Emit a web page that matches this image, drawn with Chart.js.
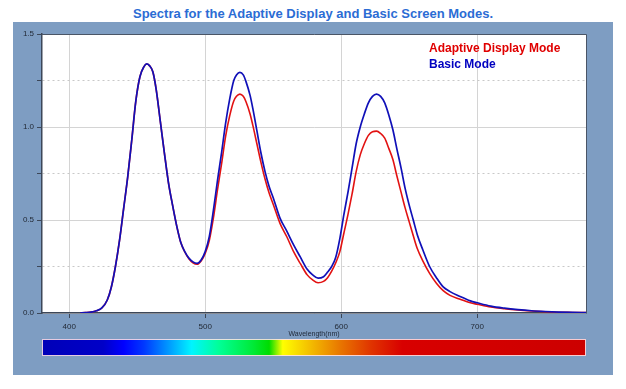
<!DOCTYPE html>
<html>
<head>
<meta charset="utf-8">
<script src="https://cdn.jsdelivr.net/npm/chart.js@4.4.1/dist/chart.umd.min.js"></script>
<style>
  html, body { margin: 0; padding: 0; background: #ffffff; }
  #wrap { position: relative; width: 626px; height: 389px; overflow: hidden; font-family: "Liberation Sans", Arial, sans-serif; }
  #panel { position: absolute; left: 13px; top: 22px; width: 600px; height: 353px; background: #7e9dc2; }
  #title { position: absolute; left: 0; width: 626px; top: 6px; text-align: center; font-weight: bold; font-size: 13px; line-height: 16px; color: #2b6cd4; }
  #c { position: absolute; left: 0; top: 0; }
  #legend { position: absolute; left: 429px; top: 40px; font-weight: bold; font-size: 12px; line-height: 16px; }
</style>
</head>
<body>
<div id="wrap">
  <div id="panel"></div>
  <div id="title">Spectra for the Adaptive Display and Basic Screen Modes.</div>
  <canvas id="c" width="626" height="389"></canvas>
  <div id="legend"></div>
</div>
<script>
// ---- data ----
const wavelengths = [408,412,416,420,424,428,431,434,437,440,443,446,449,452,455,457,459,461.5,464,467,470,473,476,479,482,485,488,491,494,497,500,503,506,509,512,515,518,521,523,525.5,528,530,533,535,538,541,544,547,550,555,560,565,570,575,579,583,587,590,593,596,599,602,605,608,611,614,617,620,623,626,629,632,635,638,641,644,647,650,653,656,660,665,670,675,680,687,695,700,710,720,730,740,750,760,770,780];
const basicMode = [0.000,0.002,0.005,0.012,0.027,0.070,0.140,0.250,0.390,0.560,0.730,0.930,1.140,1.270,1.325,1.339,1.330,1.297,1.200,1.030,0.860,0.700,0.580,0.470,0.380,0.330,0.295,0.275,0.267,0.285,0.330,0.410,0.550,0.710,0.860,1.020,1.150,1.250,1.280,1.294,1.280,1.244,1.170,1.100,0.980,0.860,0.760,0.680,0.620,0.510,0.440,0.366,0.300,0.235,0.205,0.187,0.195,0.220,0.250,0.300,0.400,0.530,0.650,0.780,0.910,1.000,1.070,1.130,1.165,1.177,1.165,1.130,1.065,0.985,0.880,0.780,0.670,0.580,0.500,0.420,0.340,0.250,0.190,0.140,0.115,0.090,0.065,0.055,0.037,0.026,0.018,0.012,0.008,0.005,0.003,0.002];
const adaptiveMode = [0.000,0.002,0.005,0.012,0.027,0.070,0.140,0.250,0.390,0.560,0.730,0.930,1.140,1.270,1.325,1.339,1.330,1.297,1.200,1.030,0.860,0.700,0.580,0.470,0.380,0.328,0.292,0.270,0.262,0.280,0.320,0.390,0.510,0.660,0.800,0.950,1.060,1.140,1.165,1.177,1.165,1.136,1.070,1.010,0.910,0.810,0.720,0.645,0.585,0.482,0.410,0.330,0.265,0.205,0.178,0.163,0.170,0.190,0.225,0.270,0.330,0.430,0.530,0.640,0.760,0.850,0.910,0.955,0.975,0.978,0.965,0.940,0.885,0.825,0.735,0.650,0.565,0.490,0.415,0.345,0.280,0.213,0.160,0.120,0.095,0.075,0.055,0.047,0.032,0.023,0.016,0.011,0.007,0.004,0.003,0.002];
const seriesNames = ['Adaptive Display Mode', 'Basic Mode'];
const xTickValues = [400, 500, 600, 700];
const yTickLabels = ['0.0', '0.5', '1.0', '1.5'];
const spectrumWavelengths = [380,425,440,455,490,510,535,547,557,580,600,622,645,780];
const spectrumColors = ['#0000b8','#0000c8','#0000ff','#0038ff','#00f4ff','#00ff98','#00ea38','#00dc00','#ffff00','#f2b400','#e87400','#e03400','#d80000','#cc0000'];

const RED = '#e21212', BLUE = '#1010b8';

// legend as real text
const legendEl = document.getElementById('legend');
[[seriesNames[0], '#e00000'], [seriesNames[1], '#0000c0']].forEach(([t, c]) => {
  const d = document.createElement('div'); d.textContent = t; d.style.color = c; legendEl.appendChild(d);
});

const isMajor = v => Math.abs(v * 2 - Math.round(v * 2)) < 1e-6;

const bgPlugin = {
  id: 'bg',
  beforeDraw(chart) {
    const {ctx, chartArea: a} = chart;
    ctx.save(); ctx.fillStyle = '#ffffff';
    ctx.fillRect(a.left, a.top, a.right - a.left, a.bottom - a.top);
    ctx.restore();
  },
  afterDraw(chart) {
    const {ctx, chartArea: a} = chart;
    const xs = chart.scales.x;
    ctx.save();
    ctx.strokeStyle = '#4a5566'; ctx.lineWidth = 1;
    ctx.beginPath();
    ctx.moveTo(a.left, a.top + 0.5); ctx.lineTo(a.right + 0.5, a.top + 0.5); ctx.lineTo(a.right + 0.5, a.bottom);
    ctx.stroke();
    // spectrum colour bar under the axis
    const x0 = xs.getPixelForValue(380), x1 = xs.getPixelForValue(780);
    const g = ctx.createLinearGradient(x0, 0, x1, 0);
    spectrumWavelengths.forEach((w, i) => g.addColorStop((w - 380) / 400, spectrumColors[i]));
    const y0 = a.bottom + 26, h = 17;
    ctx.fillStyle = g; ctx.fillRect(x0, y0, x1 - x0, h);
    ctx.strokeStyle = 'rgba(255,225,230,0.9)'; ctx.lineWidth = 1;
    ctx.strokeRect(x0 + 0.5, y0 + 0.5, x1 - x0 - 1, h - 1);
    ctx.restore();
  }
};

new Chart(document.getElementById('c'), {
  type: 'line',
  data: {
    datasets: [
      { label: seriesNames[1], data: wavelengths.map((w, i) => ({x: w, y: basicMode[i]})), borderColor: BLUE, borderWidth: 1.7, pointRadius: 0, cubicInterpolationMode: 'monotone', fill: false },
      { label: seriesNames[0], data: wavelengths.map((w, i) => ({x: w, y: adaptiveMode[i]})), borderColor: RED, borderWidth: 1.6, pointRadius: 0, cubicInterpolationMode: 'monotone', fill: false }
    ]
  },
  options: {
    responsive: false, animation: false, devicePixelRatio: 1,
    layout: { padding: { left: 12, right: 40, top: 34, bottom: 51 } },
    plugins: { legend: { display: false }, title: { display: false }, tooltip: { enabled: false } },
    scales: {
      x: {
        type: 'linear', min: 380, max: 780,
        afterFit(s) { s.height = 25; },
        afterBuildTicks(s) { s.ticks = xTickValues.map(v => ({value: v})); },
        ticks: { includeBounds: false, autoSkip: false, maxRotation: 0, padding: 4, color: '#222a36', font: { family: 'Liberation Sans', size: 8 } },
        grid: { color: '#d4d4d4', lineWidth: 1, tickLength: 5, tickColor: '#3c4758' },
        border: { color: '#3c4758', width: 1.5 },
        title: { display: true, text: 'Wavelength(nm)', color: '#1e2838', padding: 0, font: { family: 'Liberation Sans', size: 7 } }
      },
      y: {
        min: 0, max: 1.5,
        afterFit(s) { s.width = 30; },
        ticks: { stepSize: 0.25, autoSkip: false, padding: 3, color: '#222a36', font: { family: 'Liberation Sans', size: 8 },
          callback: v => isMajor(v) ? yTickLabels[Math.round(v * 2)] : '' },
        grid: { color: ctx => (ctx.tick && !isMajor(ctx.tick.value)) ? '#c8c8c8' : '#d4d4d4', lineWidth: 1, tickLength: 5, tickColor: '#3c4758' },
        border: { color: '#3c4758', width: 1.5, dash: ctx => (ctx.tick && !isMajor(ctx.tick.value)) ? [2, 3] : [] }
      }
    }
  },
  plugins: [bgPlugin]
});
</script>
</body>
</html>
